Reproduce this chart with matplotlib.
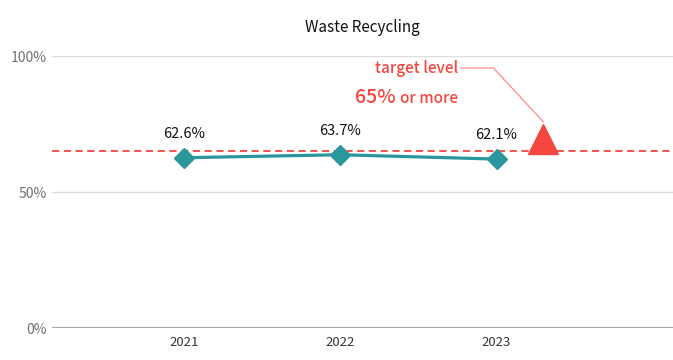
import matplotlib.pyplot as plt

plt.rcParams["font.family"] = ["Noto Sans CJK JP", "DejaVu Sans"]

years = [2021, 2022, 2023]
rates = [62.6, 63.7, 62.1]
labels = ["62.6%", "63.7%", "62.1%"]
y_ticks = [0, 50, 100]
y_tick_labels = ["0%", "50%", "100%"]
target = 65
target_x = 2023.3

TEAL = "#2a979d"
RED = "#f4463f"


def main():
    fig = plt.figure(figsize=(6.73, 3.6), dpi=100)
    ax = fig.add_axes([52 / 673, 32 / 360, 621 / 673, 272 / 360])

    ax.set_xlim(2020.154, 2024.13)
    ax.set_ylim(0, 100)

    # grid + axis
    for v in y_ticks[1:]:
        ax.axhline(v, color="#dcdcdc", lw=1, zorder=0)
    ax.axhline(0, color="#aaaaaa", lw=1.6, zorder=1)
    for s in ax.spines.values():
        s.set_visible(False)
    ax.set_yticks(y_ticks)
    ax.set_yticklabels(y_tick_labels, color="#707070", fontsize=10)
    ax.set_xticks(years)
    ax.set_xticklabels([str(y) for y in years], color="#333333", fontsize=9.5)
    ax.tick_params(length=0)
    ax.tick_params(axis="y", pad=4)
    ax.tick_params(axis="x", pad=6)

    # target line
    ax.axhline(target, color=RED, lw=1.3, ls=(0, (4, 2.5)), zorder=2)

    # series
    ax.plot(years, rates, color=TEAL, lw=2.3, marker="D", markersize=10.5,
            zorder=3, clip_on=False)
    for x, y, lab in zip(years, rates, labels):
        ax.annotate(lab, (x, y), xytext=(0, 12), textcoords="offset points",
                    ha="center", va="bottom", fontsize=10.5, color="#111111")

    # target marker + callout
    ax.plot([target_x], [target + 4.5], marker="^", markersize=21,
            color=RED, mec=RED, zorder=4)
    ax.plot([target_x, 2022.98, 2022.77], [target + 10.8, 95.6, 95.6],
            color="#ff8a85", lw=0.9, zorder=2)
    ax.text(2022.755, 93.6, "target level", ha="right", va="baseline",
            fontsize=11, color=RED, fontweight="medium")
    t2 = ax.text(2022.755, 82.6, "or more", ha="right", va="baseline",
                 fontsize=11, color=RED, fontweight="medium")
    ax.annotate("65%", xy=(0, 82.6), xycoords=(t2, "data"), xytext=(-3, 0),
                textcoords="offset points", ha="right", va="baseline",
                fontsize=14, color=RED, fontweight="medium")

    fig.text(362 / 673, 1 - 27 / 360, "Waste Recycling", ha="center",
             va="center", fontsize=11, color="#111111")

    fig.savefig("out.png", dpi=100)
    plt.close(fig)


if __name__ == "__main__":
    main()
